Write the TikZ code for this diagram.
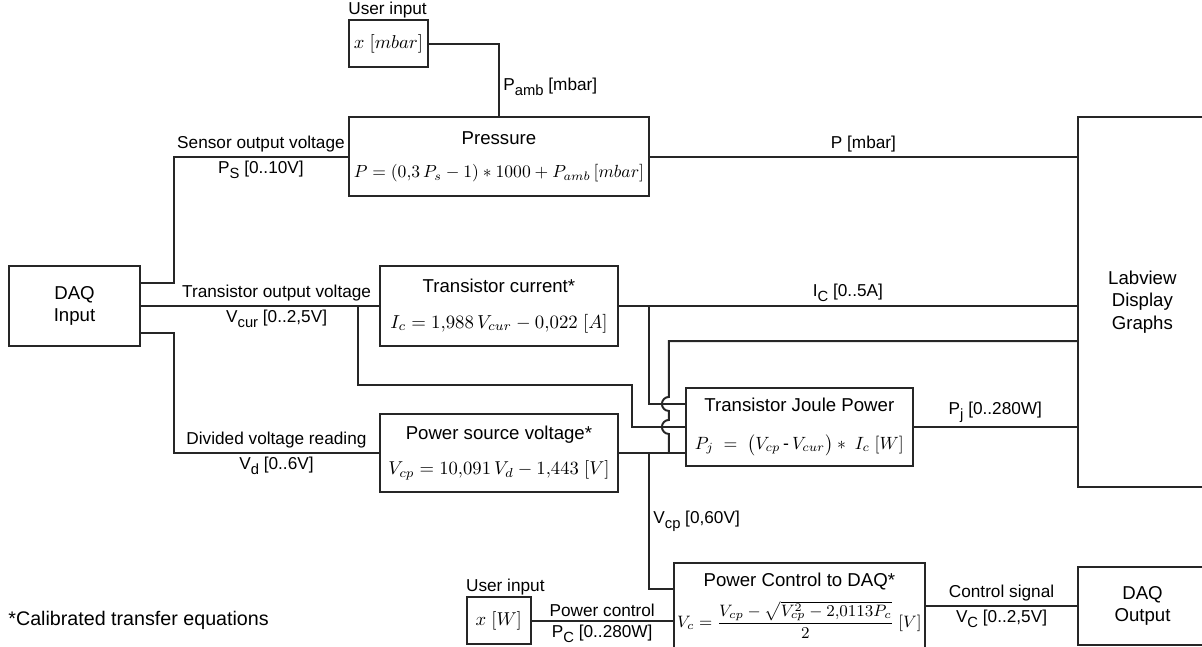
\RequirePackage{fix-cm}
\documentclass[tikz,border=0pt]{standalone}
\usepackage{amsmath}
\usepackage[no-math]{fontspec}
\setmainfont{Liberation Sans}
\usepackage{tikz}
\usetikzlibrary{positioning,calc}
\definecolor{txt}{HTML}{000000}
\definecolor{lnB}{HTML}{262626}
\newcommand{\subx}[1]{\raisebox{-0.55ex}{\fontsize{8.4}{9}\selectfont #1}}
\newcommand{\eqsz}[1]{\fontsize{#1}{12}\selectfont}

\begin{document}
\begin{tikzpicture}[
  font=\fontsize{9.8}{12.5}\selectfont,text=txt,
  bx/.style={draw=lnB,line width=1.1pt,align=center,inner sep=2pt,font=\fontsize{10.6}{12.8}\selectfont},
  eq/.style={bx,minimum width=47.6mm,minimum height=16mm},
  io/.style={bx,minimum width=25.8mm,minimum height=15.6mm},
  usr/.style={bx,minimum height=9.4mm},
  wire/.style={draw=lnB,line width=1.1pt},
  lbl/.style={inner sep=2pt},
  ulbl/.style={anchor=base west,inner sep=0pt},
  ]
\useasboundingbox (-14.9mm,-68mm) rectangle (225.5mm,61.2mm);

% ================= LEFT: DAQ input =================
\node[bx,minimum width=26.2mm,minimum height=16mm] (daq) at (0,0) {DAQ\\Input};

% ================= MIDDLE: transfer equations =================
\node[eq,right=47.6mm of daq] (cur) {Transistor current*\\[2.6mm]\eqsz{10.7}$I_c=1{,}988\,V_{cur}-0{,}022\;[A]$};
\node[eq,minimum height=15.6mm,below=13.2mm of cur] (pwr) {Power source voltage*\\[2.4mm]\eqsz{10.6}$V_{cp}=10{,}091\,V_d-1{,}443\;[V]$};
\node[eq,minimum width=60mm,minimum height=15.8mm,above=13.6mm of cur] (pres)
  {Pressure\\[2.2mm]\eqsz{10}$P=(0{,}3\,P_s-1)\ast1000+P_{amb}\,[mbar]$};
\node[usr,minimum width=15.8mm,above=9.6mm of pres.north west,anchor=south west] (uin) {$x\;[mbar]$};
\node[ulbl] (uinL) at ([yshift=1mm]uin.north west) {User input};

\node[eq,minimum width=45.4mm,minimum height=15.6mm,anchor=west] (joule) at ([xshift=13.2mm,yshift=5.2mm]pwr.east)
  {Transistor Joule Power\\[3mm]\eqsz{10.1}$P_j\;=\;\bigl(V_{cp}\,\mbox{-}\,V_{cur}\bigr)\ast\;I_c\;[W]$};

% ================= RIGHT: display and output =================
\node[io,minimum height=74mm,anchor=north west] (lab) at ([xshift=85.4mm]pres.north east) {Labview\\Display\\Graphs};

\node[eq,minimum width=49.6mm,minimum height=17.2mm,below=19mm of joule] (pc)
  {Power Control to DAQ*\\[2mm]\eqsz{9.4}$V_c=\dfrac{V_{cp}-\sqrt{V_{cp}^2-2{,}0113P_c}}{2}\;[V]$};
\node[usr,minimum width=12.8mm,left=28.2mm of pc,yshift=-3mm] (uinw) {$x\;[W]$};
\node[ulbl] (uinwL) at ([yshift=1mm]uinw.north west) {User input};
\node[io,right=30.2mm of pc] (dout) {DAQ\\Output};

\node[anchor=west,inner sep=0pt,font=\fontsize{11.2}{13}\selectfont] (note) at (daq.west |- uinw) {*Calibrated transfer equations};

% ---- inputs from DAQ ----
\coordinate (jL) at ([xshift=6.6mm]daq.east);
\draw[wire] ([yshift=4.6mm]daq.east) -- ([yshift=4.6mm]jL) |- (pres.west)
  node[pos=0.75,above,lbl]{Sensor output voltage}
  node[pos=0.75,below,lbl]{P\subx{S} [0..10V]};
\draw[wire] (daq.east) -- (cur.west)
  node[pos=0.57,above,lbl]{Transistor output voltage}
  node[pos=0.57,below,lbl]{V\subx{cur} [0..2,5V]};
\draw[wire] ([yshift=-5.4mm]daq.east) -- ([yshift=-5.4mm]jL) |- (pwr.west)
  node[pos=0.75,above,lbl]{Divided voltage reading}
  node[pos=0.75,below,lbl]{V\subx{d} [0..6V]};
\draw[wire] (uin.east) -| (pres.north) node[pos=0.8,right,lbl]{P\subx{amb} [mbar]};

% ---- outputs to Labview ----
\draw[wire] (pres.east) -- (pres.east -| lab.west) node[midway,above,lbl]{P [mbar]};
\draw[wire] (cur.east) -- (cur.east -| lab.west) node[midway,above,lbl]{I\subx{C} [0..5A]};
\draw[wire] (joule.east) -- (joule.east -| lab.west) node[midway,above,lbl]{P\subx{j} [0..280W]};

% ---- feeds into joule power ----
\draw[wire] ([xshift=6mm]cur.east) |- ([yshift=4.6mm]joule.west);
\draw[wire] ([xshift=-4.2mm]cur.west) -- ++(0,-15.8mm) -| ([xshift=-10.6mm]joule.west) -- (joule.west);
\draw[wire] (pwr.east) -- (pwr.east -| joule.west);

% Vcp to Labview, hopping over the two feeds
\coordinate (hp) at ([xshift=-3.2mm]joule.west |- pwr.east);
\draw[wire] (hp) -- ([xshift=-3.2mm,yshift=-1.4mm]joule.west)
  arc[start angle=270,end angle=90,radius=1.4mm]
  -- ([xshift=-3.2mm,yshift=3.2mm]joule.west)
  arc[start angle=270,end angle=90,radius=1.4mm]
  |- ([yshift=-7.8mm]lab.west);

% ---- power control ----
\draw[wire] ([xshift=6mm]pwr.east) |- ([yshift=3.4mm]pc.west)
  node[pos=0.25,right,lbl]{V\subx{cp} [0,60V]};
\draw[wire] (uinw.east) -- (uinw.east -| pc.west)
  node[midway,above,lbl]{Power control}
  node[midway,below,lbl]{P\subx{C} [0..280W]};
\draw[wire] (pc.east) -- (dout.west)
  node[midway,above,lbl]{Control signal}
  node[midway,below,lbl]{V\subx{C} [0..2,5V]};

\end{tikzpicture}
\end{document}
